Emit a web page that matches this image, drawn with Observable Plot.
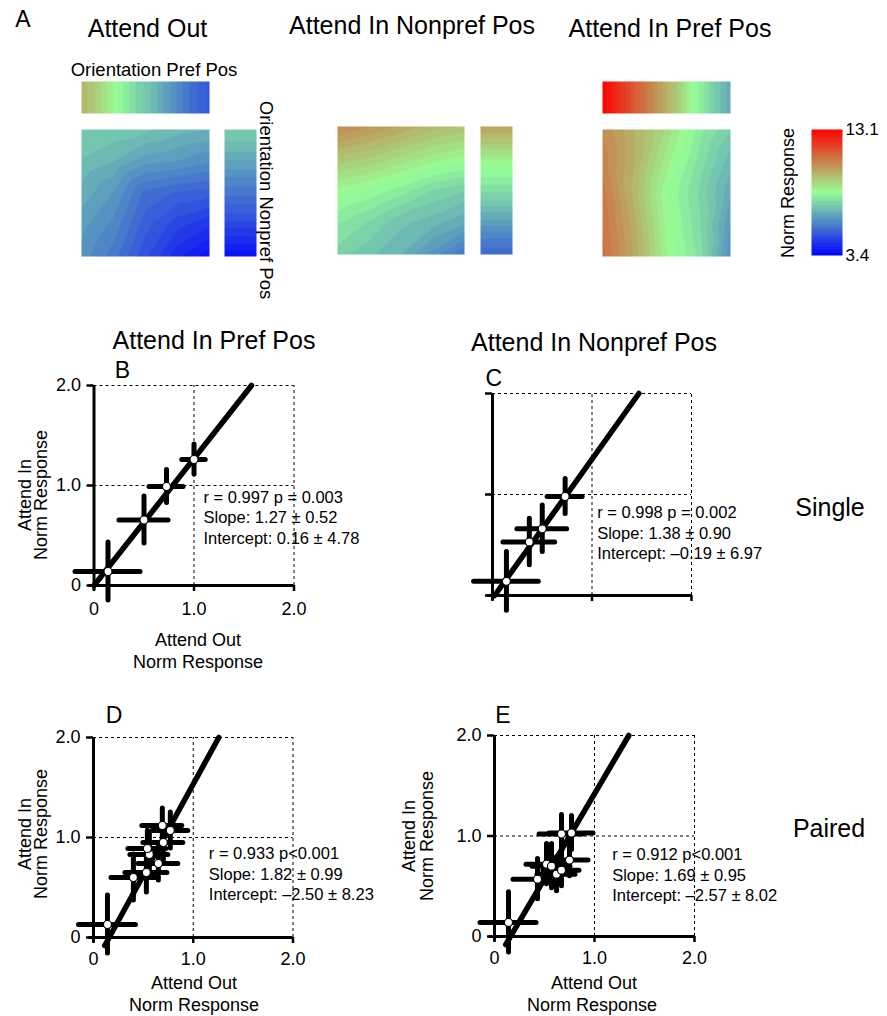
<!DOCTYPE html>
<html><head><meta charset="utf-8">
<script src="https://cdn.jsdelivr.net/npm/d3@7"></script>
<script src="https://cdn.jsdelivr.net/npm/@observablehq/plot@0.6"></script>
<style>
body{margin:0;background:#fff;}
#fig{position:relative;width:887px;height:1016px;overflow:hidden;font-family:"Liberation Sans",Arial,Helvetica,sans-serif;}
#fig svg{position:absolute;overflow:visible;}
</style></head><body><div id="fig"></div>
<script>
// ---------- Panel A data (Norm Response, rows top→bottom, cols left→right) ----------
const vmin = 3.4, vmax = 13.1;
const attendOutMain = [
  [7.3, 7.2, 7.1, 6.9, 6.8],
  [7.0, 6.8, 6.4, 6.3, 6.1],
  [6.7, 6.3, 5.5, 5.3, 5.2],
  [6.4, 6.0, 5.2, 4.7, 4.4],
  [6.2, 5.7, 4.9, 4.2, 3.7]
];
const attendOutPrefStrip = [9.7, 9.0, 8.25, 7.5, 6.9, 6.2, 5.5, 5.05];
const attendOutNonprefStrip = [7.3, 6.9, 6.4, 5.9, 5.4, 4.9, 4.3, 3.7];
const nonprefMain = [
  [10.5, 10.2, 9.9, 9.6, 9.4],
  [9.4, 9.2, 8.9, 8.6, 8.4],
  [8.4, 8.2, 7.9, 7.5, 7.3],
  [7.8, 7.5, 7.1, 6.9, 6.6],
  [7.4, 7.1, 6.8, 6.2, 5.6]
];
const nonprefNonprefStrip = [10.0, 9.2, 8.4, 7.9, 7.3, 6.6, 5.9, 5.4];
const prefMain = [
  [10.4, 9.7, 8.9, 7.9, 7.3],
  [10.6, 9.7, 8.6, 7.7, 6.9],
  [10.8, 9.6, 8.3, 7.5, 6.6],
  [10.9, 9.8, 8.4, 7.6, 6.3],
  [11.0, 9.9, 8.5, 7.7, 6.1]
];
const prefPrefStrip = [13.1, 12.1, 11.2, 10.2, 9.3, 8.25, 7.4, 6.6];

// ---------- Scatter data (Attend Out x, Attend In y, errors) ----------
const ptsB = [
  {x: 0.14, y: 0.14, ex: 0.325, ey: 0.29},
  {x: 0.50, y: 0.655, ex: 0.245, ey: 0.235},
  {x: 0.725, y: 0.99, ex: 0.17, ey: 0.165},
  {x: 1.00, y: 1.26, ex: 0.117, ey: 0.15}
];
const ptsC = [
  {x: 0.14, y: 0.14, ex: 0.325, ey: 0.29},
  {x: 0.37, y: 0.53, ex: 0.26, ey: 0.23},
  {x: 0.50, y: 0.66, ex: 0.25, ey: 0.23},
  {x: 0.73, y: 0.98, ex: 0.176, ey: 0.173}
];
const ptsD = [
  {x: 0.14, y: 0.13, ex: 0.285, ey: 0.29},
  {x: 0.40, y: 0.60, ex: 0.22, ey: 0.23},
  {x: 0.53, y: 0.65, ex: 0.21, ey: 0.20},
  {x: 0.56, y: 0.83, ex: 0.19, ey: 0.21},
  {x: 0.54, y: 0.89, ex: 0.19, ey: 0.18},
  {x: 0.65, y: 0.74, ex: 0.20, ey: 0.17},
  {x: 0.70, y: 0.95, ex: 0.20, ey: 0.18},
  {x: 0.69, y: 1.12, ex: 0.20, ey: 0.17},
  {x: 0.77, y: 1.07, ex: 0.18, ey: 0.18}
];
const ptsE = [
  {x: 0.14, y: 0.14, ex: 0.28, ey: 0.30},
  {x: 0.43, y: 0.57, ex: 0.24, ey: 0.20},
  {x: 0.52, y: 0.72, ex: 0.20, ey: 0.20},
  {x: 0.57, y: 0.70, ex: 0.19, ey: 0.22},
  {x: 0.62, y: 0.62, ex: 0.19, ey: 0.17},
  {x: 0.67, y: 0.66, ex: 0.18, ey: 0.16},
  {x: 0.75, y: 0.76, ex: 0.19, ey: 0.16},
  {x: 0.67, y: 1.02, ex: 0.22, ey: 0.19},
  {x: 0.77, y: 1.03, ex: 0.22, ey: 0.17}
];
const fitB = {slope: 1.27, intercept: 0.0, from: 0.0};
const fitC = {slope: 1.38, intercept: -0.03, from: 0.0};
const fitD = {slope: 1.82, intercept: -0.286, from: -0.08};
const fitE = {slope: 1.69, intercept: -0.27, from: -0.08};
const statsB = ["r = 0.997 p = 0.003", "Slope: 1.27 ± 0.52", "Intercept: 0.16 ± 4.78"];
const statsC = ["r = 0.998 p = 0.002", "Slope: 1.38 ± 0.90", "Intercept: –0.19 ± 6.97"];
const statsD = ["r = 0.933 p<0.001", "Slope: 1.82 ± 0.99", "Intercept: –2.50 ± 8.23"];
const statsE = ["r = 0.912 p<0.001", "Slope: 1.69 ± 0.95", "Intercept: –2.57 ± 8.02"];
const axisTicks = [0, 1, 2];
const tickText = d => d === 0 ? "0" : d.toFixed(1);

// ---------- colour map ----------
function cmap(t) {
  const a = [0, 0, 255], b = [150, 255, 150], c = [255, 0, 0];
  let p, q, s;
  if (t < 0.5) { p = a; q = b; s = t * 2; } else { p = b; q = c; s = t * 2 - 1; }
  return `rgb(${p.map((v, k) => Math.round(v + (q[k] - v) * s)).join(",")})`;
}
const NB = 40;
const thresholds = d3.range(1, NB).map(i => vmin + (vmax - vmin) * i / NB);
const bandColors = d3.range(NB).map(i => cmap((i + 0.5) / NB));
const colorOpts = {type: "threshold", domain: thresholds, range: bandColors};

const fig = document.getElementById("fig");
const baseStyle = {fontFamily: '"Liberation Sans",Arial,Helvetica,sans-serif', color: "black", background: "transparent", overflow: "visible"};
function place(el, left, top) {
  el.style.left = left + "px"; el.style.top = top + "px"; fig.appendChild(el);
}

function heat(grid, left, top, width, height) {
  const rows = grid.length, cols = grid[0].length;
  const pts = grid.flatMap((row, r) => row.map((v, c) => ({c, r: rows - 1 - r, v})));
  const p = Plot.plot({
    width, height, margin: 0, style: baseStyle,
    x: {domain: [0, cols - 1], axis: null},
    y: {domain: [0, rows - 1], axis: null},
    color: colorOpts,
    marks: [Plot.raster(pts, {x: "c", y: "r", fill: "v", interpolate: "barycentric",
      x1: 0, x2: cols - 1, y1: 0, y2: rows - 1})]
  });
  place(p, left, top);
}
heat([attendOutPrefStrip, attendOutPrefStrip], 81, 81, 128, 32);
heat(attendOutMain, 81, 129, 128, 127);
heat(attendOutNonprefStrip.map(v => [v, v]), 224, 129, 32, 127);
heat(nonprefMain, 337, 126, 127, 128);
heat(nonprefNonprefStrip.map(v => [v, v]), 480, 126, 32, 128);
heat([prefPrefStrip, prefPrefStrip], 602, 81, 128, 32);
heat(prefMain, 602, 129, 128, 127);

// colour bar
place(Plot.plot({
  width: 31 + 45, height: 126, marginLeft: 0, marginRight: 45, marginTop: 0, marginBottom: 0,
  style: baseStyle,
  x: {domain: [0, 1], axis: null}, y: {domain: [vmin, vmax]},
  color: colorOpts,
  marks: [
    Plot.raster({fill: (x, y) => y, x1: 0, x2: 1, y1: vmin, y2: vmax}),
    Plot.axisY({anchor: "right", ticks: [vmin, vmax], tickFormat: d => d.toFixed(1), tickSize: 0, tickPadding: 3, fontSize: 17, label: null})
  ]
}), 811, 129);

// ---------- scatter panels ----------
function scatter({left, top, width, height, x0, x2, y0, y2, pts, fit, stats, statAt, labels, tickPadX}) {
  const fitPts = [fit.from, 2].map(y => ({x: (y - fit.intercept) / fit.slope, y}));
  const p = Plot.plot({
    width, height,
    marginLeft: x0 - left, marginRight: left + width - x2, marginTop: y2 - top, marginBottom: top + height - y0,
    style: baseStyle,
    x: {domain: [0, 2]}, y: {domain: [0, 2]},
    marks: [
      Plot.ruleY([1, 2], {x1: 0, x2: 2, strokeDasharray: "3,3", strokeWidth: 1}),
      Plot.ruleX([1, 2], {y1: 0, y2: 2, strokeDasharray: "3,3", strokeWidth: 1}),
      Plot.ruleY([0], {x1: -0.05, x2: 2, strokeWidth: 3}),
      Plot.ruleX([0], {y1: -0.05, y2: 2, strokeWidth: 3}),
      Plot.axisX({ticks: axisTicks, tickFormat: labels ? tickText : () => "", tickSize: 6, tickPadding: tickPadX, strokeWidth: 2.5, fontSize: 18, label: null}),
      Plot.axisY({ticks: axisTicks, tickFormat: labels ? tickText : () => "", tickSize: 7, tickPadding: 6, strokeWidth: 2.5, fontSize: 18, label: null}),
      Plot.ruleY(pts, {y: "y", x1: d => d.x - d.ex, x2: d => d.x + d.ex, strokeWidth: 5, strokeLinecap: "round"}),
      Plot.ruleX(pts, {x: "x", y1: d => d.y - d.ey, y2: d => d.y + d.ey, strokeWidth: 5, strokeLinecap: "round"}),
      Plot.line(fitPts, {x: "x", y: "y", strokeWidth: 5.5}),
      Plot.dot(pts, {x: "x", y: "y", r: 4, fill: "white", stroke: "black", strokeWidth: 1.2}),
      Plot.text([stats.join("\n")], {x: statAt[0], y: statAt[1], textAnchor: "start", lineAnchor: "top", lineHeight: 1.24, fontSize: 16.5})
    ]
  });
  place(p, left, top);
}
scatter({left: 0, top: 360, width: 330, height: 320, x0: 93.5, x2: 293.5, y0: 585, y2: 385,
  pts: ptsB, fit: fitB, stats: statsB, statAt: [1.095, 0.972], labels: true, tickPadX: 11});
scatter({left: 440, top: 370, width: 330, height: 300, x0: 492, x2: 691, y0: 595, y2: 393,
  pts: ptsC, fit: fitC, stats: statsC, statAt: [1.052, 0.908], labels: false, tickPadX: 11});
scatter({left: 0, top: 700, width: 330, height: 316, x0: 93, x2: 292.5, y0: 937, y2: 737,
  pts: ptsD, fit: fitD, stats: statsD, statAt: [1.156, 0.927], labels: true, tickPadX: 9});
scatter({left: 400, top: 700, width: 330, height: 316, x0: 494, x2: 694, y0: 936, y2: 735,
  pts: ptsE, fit: fitE, stats: statsE, statAt: [1.177, 0.902], labels: true, tickPadX: 9});

// ---------- text overlay ----------
const svg = d3.select(fig).append("svg").attr("width", 887).attr("height", 1016)
  .style("left", "0px").style("top", "0px").style("pointer-events", "none")
  .attr("font-family", '"Liberation Sans",Arial,Helvetica,sans-serif').attr("fill", "black");
const labels = [
  ["A", 22.8, 26.7, 23, 0], ["Attend Out", 147.5, 37, 25, 0], ["Attend In Nonpref Pos", 412, 34, 25, 0],
  ["Attend In Pref Pos", 670, 36.5, 25, 0], ["Orientation Pref Pos", 154, 75.5, 18.5, 0],
  ["Orientation Nonpref Pos", 260, 200, 18.5, 90], ["Norm Response", 793.5, 193, 18, -90],
  ["Attend In Pref Pos", 214, 349, 25, 0], ["Attend In Nonpref Pos", 594, 351, 25, 0],
  ["B", 122.5, 378, 23, 0], ["C", 493.7, 386, 23, 0], ["D", 114, 722.7, 23, 0], ["E", 503, 722.7, 23, 0],
  ["Single", 830, 516, 25, 0], ["Paired", 829, 837, 25, 0],
  ["Attend In", 31, 495, 18, -90], ["Norm Response", 47, 495, 18, -90],
  ["Attend Out", 198, 646, 18, 0], ["Norm Response", 198, 668, 18, 0],
  ["Attend In", 31, 834, 18, -90], ["Norm Response", 47, 834, 18, -90],
  ["Attend Out", 194, 989, 18, 0], ["Norm Response", 194, 1011, 18, 0],
  ["Attend In", 415, 836, 18, -90], ["Norm Response", 433, 836, 18, -90],
  ["Attend Out", 594, 989, 18, 0], ["Norm Response", 592, 1011, 18, 0]
];
svg.selectAll("text").data(labels).join("text")
  .attr("transform", d => `translate(${d[1]},${d[2]}) rotate(${d[4]})`)
  .attr("text-anchor", "middle").attr("font-size", d => d[3]).text(d => d[0]);
</script></body></html>
